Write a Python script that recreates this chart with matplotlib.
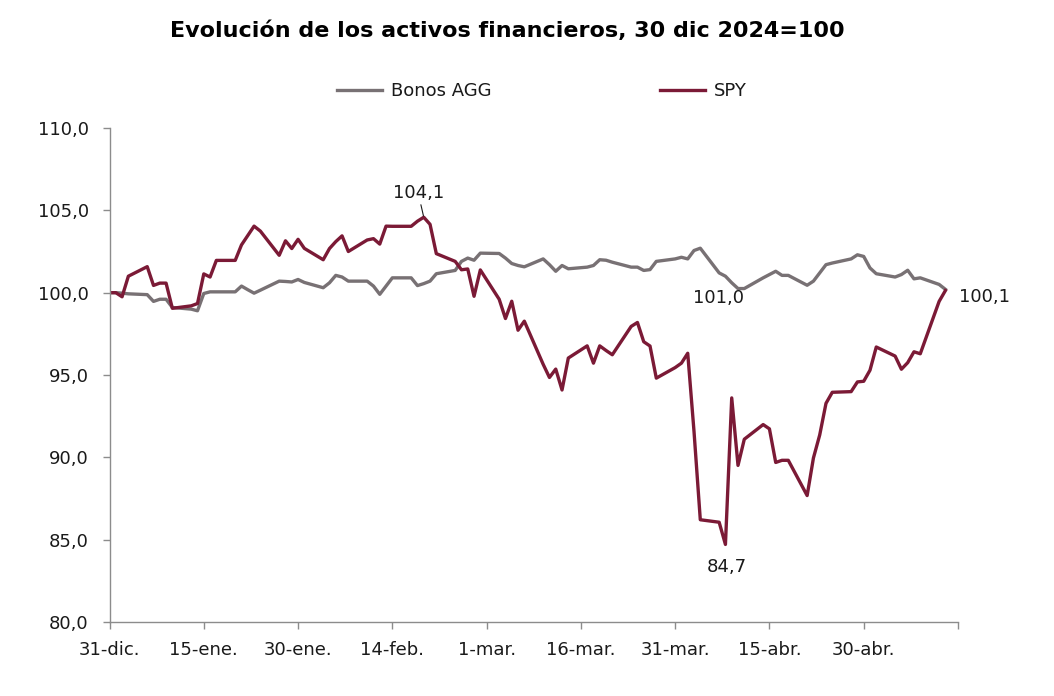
import numpy as np
import pandas as pd
import matplotlib
matplotlib.use("Agg")
import matplotlib.pyplot as plt

plt.rcParams['font.family'] = ['DejaVu Sans']

### Datos (dias habiles, 31 dic 2024 - 13 may 2025, festivos repetidos)
fechas = pd.bdate_range('2024-12-31', '2025-05-13')

spy = [100.00, 100.00, 99.75, 101.00, 101.58, 100.44, 100.58, 100.58, 99.05, 99.20,
       99.34, 101.14, 100.95, 101.96, 101.96, 102.90, 103.47, 104.04, 103.74, 102.27,
       103.15, 102.68, 103.24, 102.69, 102.00, 102.68, 103.10, 103.45, 102.50, 103.20,
       103.28, 102.95, 104.04, 104.03, 104.03, 104.34, 104.58, 104.15, 102.37, 101.90,
       101.39, 101.44, 99.78, 101.38, 99.60, 98.43, 99.48, 97.72, 98.27, 95.65,
       94.85, 95.36, 94.09, 96.03, 96.77, 95.72, 96.77, 96.49, 96.23, 97.95,
       98.19, 97.02, 96.76, 94.81, 95.45, 95.72, 96.32, 91.57, 86.21, 86.06,
       84.71, 93.61, 89.51, 91.10, 91.99, 91.73, 89.69, 89.82, 89.82, 87.68,
       89.96, 91.36, 93.28, 93.95, 93.99, 94.58, 94.62, 95.29, 96.70, 96.15,
       95.35, 95.75, 96.41, 96.29, 99.47, 100.13]

agg = [100.00, 100.00, 99.97, 99.93, 99.88, 99.47, 99.60, 99.60, 99.10, 99.00,
       98.90, 99.95, 100.05, 100.05, 100.05, 100.40, 100.18, 99.97, 100.15, 100.70,
       100.68, 100.65, 100.80, 100.62, 100.30, 100.60, 101.05, 100.95, 100.70, 100.70,
       100.40, 99.90, 100.40, 100.90, 100.90, 100.43, 100.55, 100.70, 101.15, 101.35,
       101.90, 102.10, 101.97, 102.40, 102.38, 102.10, 101.77, 101.65, 101.57, 102.05,
       101.70, 101.30, 101.65, 101.45, 101.55, 101.65, 102.00, 101.97, 101.85, 101.55,
       101.55, 101.35, 101.40, 101.90, 102.05, 102.15, 102.05, 102.56, 102.70, 101.20,
       101.00, 100.60, 100.25, 100.25, 100.90, 101.10, 101.30, 101.05, 101.05, 100.45,
       100.70, 101.20, 101.70, 101.80, 102.05, 102.30, 102.20, 101.50, 101.15, 100.95,
       101.10, 101.36, 100.84, 100.90, 100.50, 100.20]

etiquetas_x = ['31-dic.', '15-ene.', '30-ene.', '14-feb.', '1-mar.', '16-mar.',
               '31-mar.', '15-abr.', '30-abr.', '']

col_agg = '#787174'
col_spy = '#7b1a36'
col_eje = '#8c8c8c'
col_txt = '#1a1a1a'

fig = plt.figure(figsize=(10.54, 6.96), dpi=100)
ax = fig.add_axes([0.1039, 0.1063, 0.805, 0.7098])

ax.plot(fechas, agg, color=col_agg, lw=2.4, label='Bonos AGG', solid_joinstyle='round')
ax.plot(fechas, spy, color=col_spy, lw=2.4, label='SPY', solid_joinstyle='round')

inicio = pd.Timestamp('2024-12-31')
ticks = [inicio + pd.Timedelta(days=15 * i) for i in range(10)]
ax.set_xlim(ticks[0], ticks[-1])
ax.set_xticks(ticks)
ax.set_xticklabels(etiquetas_x)
ax.set_ylim(80, 110)
ax.set_yticks(np.arange(80, 111, 5))
ax.set_yticklabels([f'{v:.1f}'.replace('.', ',') for v in np.arange(80, 111, 5)])

for s in ['top', 'right']:
    ax.spines[s].set_visible(False)
for s in ['left', 'bottom']:
    ax.spines[s].set_color(col_eje)
    ax.spines[s].set_linewidth(1.0)
ax.tick_params(axis='both', colors=col_eje, length=5, width=1.0, labelcolor=col_txt,
               labelsize=13)
ax.tick_params(axis='x', pad=9)
ax.tick_params(axis='y', pad=10)

# Etiquetas de datos
i_max = int(np.argmax(spy))
ax.annotate('104,1', xy=(fechas[i_max], spy[i_max]), xytext=(-4, 11),
            textcoords='offset points', ha='center', va='bottom', fontsize=13,
            color=col_txt, arrowprops=dict(arrowstyle='-', color=col_txt, lw=0.8,
                                           shrinkA=0, shrinkB=1))
i_min = int(np.argmin(spy))
ax.annotate('84,7', xy=(fechas[i_min], spy[i_min]), xytext=(1, -10),
            textcoords='offset points', ha='center', va='top', fontsize=13, color=col_txt)
i_agg = int(np.argmin(agg[60:76])) + 60
ax.annotate('101,0', xy=(fechas[i_agg - 2], agg[i_agg - 2]), xytext=(-5, -9),
            textcoords='offset points', ha='center', va='top', fontsize=13, color=col_txt)
ax.annotate('100,1', xy=(fechas[-1], spy[-1]), xytext=(10, -5),
            textcoords='offset points', ha='left', va='center', fontsize=13, color=col_txt)

fig.text(0.481, 0.956, 'Evolución de los activos financieros, 30 dic 2024=100',
         ha='center', va='center', fontsize=16, fontweight='bold', color='black')

fig.legend(loc='center', bbox_to_anchor=(0.514, 0.869), ncol=2, frameon=False,
           fontsize=13, handlelength=2.5, handletextpad=0.5, columnspacing=9.3,
           labelcolor=col_txt)

fig.savefig('out.png', dpi=100)
